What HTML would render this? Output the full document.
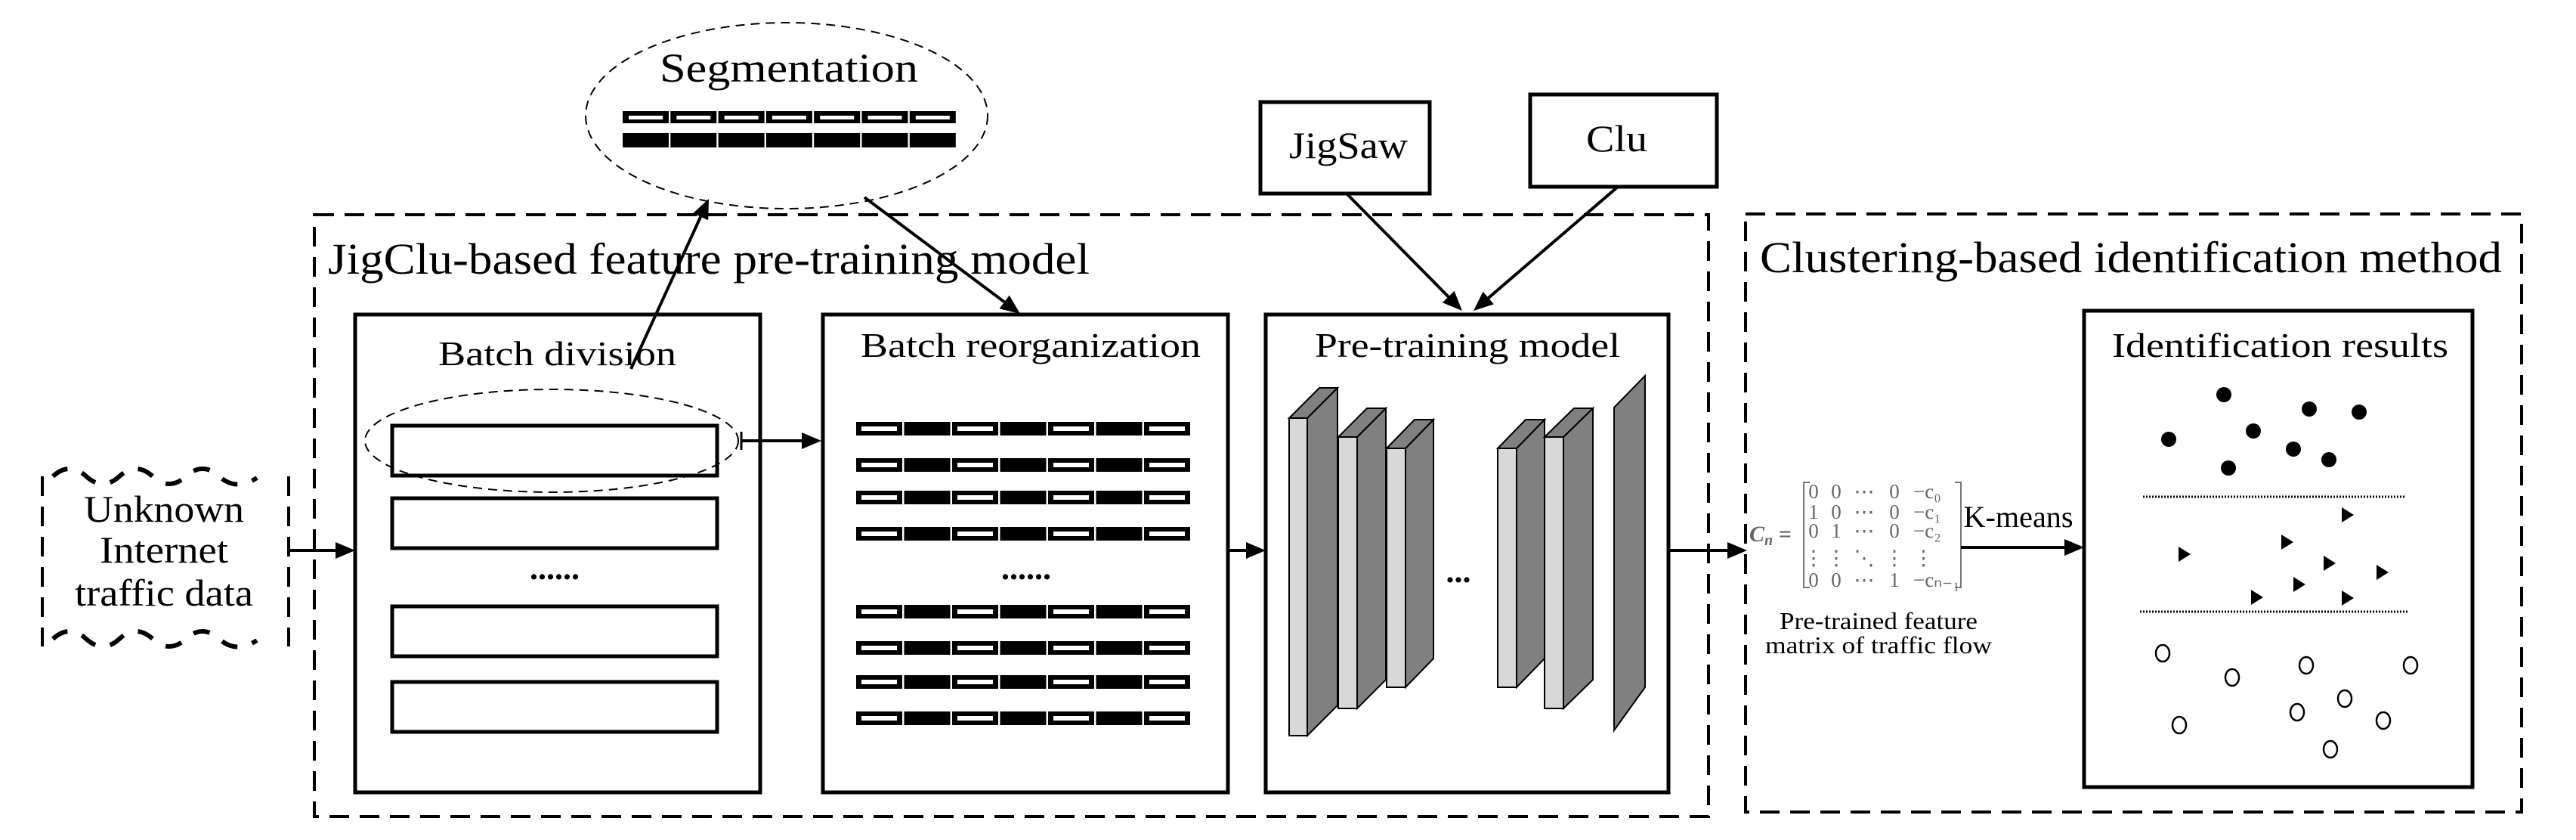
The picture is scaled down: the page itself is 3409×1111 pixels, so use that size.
<!DOCTYPE html>
<html><head><meta charset="utf-8"><style>
html,body{margin:0;padding:0;background:#fff;}
svg{display:block;}
svg text{font-family:"Liberation Serif","Times New Roman",Times,serif;fill:#000;}
</style></head><body>
<svg id="s" width="3409" height="1111" viewBox="0 0 3409 1111" xmlns="http://www.w3.org/2000/svg" font-family="Liberation Serif, Times New Roman, serif">
<!-- dashed group boxes -->
<rect x="416" y="284" width="1845" height="796" fill="none" stroke="#000" stroke-width="4" stroke-dasharray="26,14"/>
<rect x="2310" y="283" width="1027" height="791" fill="none" stroke="#000" stroke-width="4" stroke-dasharray="26,14"/>
<text x="434" y="362" font-size="58" textLength="1008" lengthAdjust="spacingAndGlyphs">JigClu-based feature pre-training model</text>
<text x="2329" y="360" font-size="58" textLength="982" lengthAdjust="spacingAndGlyphs">Clustering-based identification method</text>

<!-- segmentation -->
<ellipse cx="1041" cy="153" rx="266" ry="123" fill="none" stroke="#000" stroke-width="2" stroke-dasharray="12,8"/>
<text x="873" y="108" font-size="54" textLength="342" lengthAdjust="spacingAndGlyphs">Segmentation</text>
<g id="seg"></g>

<!-- boxes -->
<rect x="470" y="416" width="536" height="632" fill="none" stroke="#000" stroke-width="5"/>
<rect x="1089" y="416" width="536" height="632" fill="none" stroke="#000" stroke-width="5"/>
<rect x="1675" y="416" width="533" height="632" fill="none" stroke="#000" stroke-width="5"/>
<rect x="2758" y="411" width="514" height="630" fill="none" stroke="#000" stroke-width="5"/>
<rect x="1668" y="135" width="224" height="121" fill="none" stroke="#000" stroke-width="5"/>
<rect x="2025" y="125" width="247" height="122" fill="none" stroke="#000" stroke-width="5"/>
<text x="1706" y="209" font-size="50" textLength="157" lengthAdjust="spacingAndGlyphs">JigSaw</text>
<text x="2099" y="200" font-size="50" textLength="81" lengthAdjust="spacingAndGlyphs">Clu</text>
<text x="580" y="483" font-size="46" textLength="315" lengthAdjust="spacingAndGlyphs">Batch division</text>
<text x="1139" y="472" font-size="46" textLength="450" lengthAdjust="spacingAndGlyphs">Batch reorganization</text>
<text x="1740" y="472" font-size="46" textLength="404" lengthAdjust="spacingAndGlyphs">Pre-training model</text>
<text x="2795" y="472" font-size="46" textLength="445" lengthAdjust="spacingAndGlyphs">Identification results</text>

<!-- batch division rects -->
<rect x="519" y="563" width="430" height="66" fill="none" stroke="#000" stroke-width="5"/>
<rect x="519" y="659" width="430" height="66" fill="none" stroke="#000" stroke-width="5"/>
<rect x="519" y="802" width="430" height="66" fill="none" stroke="#000" stroke-width="5"/>
<rect x="519" y="902" width="430" height="66" fill="none" stroke="#000" stroke-width="5"/>
<text x="734" y="766" font-size="44" text-anchor="middle" font-weight="bold">......</text>
<ellipse cx="730" cy="583" rx="247" ry="68" fill="none" stroke="#000" stroke-width="2" stroke-dasharray="12,8"/>
<g id="reorg"></g>
<text x="1358" y="766" font-size="44" text-anchor="middle" font-weight="bold">......</text>

<!-- unknown wavy box -->
<g fill="none" stroke="#000" stroke-width="4">
<path d="M56 630 V855" stroke-dasharray="26,14"/>
<path d="M382 630 V855" stroke-dasharray="26,14"/>
<path d="M70 630 Q 92 610 114 630 Q 136 650 158 630 Q 180 610 202 630 Q 224 650 246 630 Q 268 610 290 630 Q 312 650 340 632" stroke-dasharray="22,20" stroke-width="6"/>
<path d="M70 845 Q 92 825 114 845 Q 136 865 158 845 Q 180 825 202 845 Q 224 865 246 845 Q 268 825 290 845 Q 312 865 340 847" stroke-dasharray="22,20" stroke-width="6"/>
</g>
<text x="217" y="690" font-size="50" text-anchor="middle" textLength="212" lengthAdjust="spacingAndGlyphs">Unknown</text>
<text x="217" y="744" font-size="50" text-anchor="middle" textLength="170" lengthAdjust="spacingAndGlyphs">Internet</text>
<text x="217" y="801" font-size="50" text-anchor="middle" textLength="236" lengthAdjust="spacingAndGlyphs">traffic data</text>

<!-- layers -->
<g id="layers" stroke="#000" stroke-width="2"></g>
<text x="1930" y="770" font-size="44" text-anchor="middle" font-weight="bold">...</text>

<!-- matrix -->
<text x="2315" y="716" font-size="30" font-style="italic" font-weight="bold" style="fill:#666">C<tspan font-size="20" dy="5">n</tspan><tspan dy="-5"> =</tspan></text>
<path d="M2395 638 H2387 V777 H2395 M2587 638 H2595 V777 H2587" fill="none" stroke="#777" stroke-width="2"/>
<g id="mat"></g>
<text x="2486" y="832" font-size="32" text-anchor="middle" textLength="262" lengthAdjust="spacingAndGlyphs">Pre-trained feature</text>
<text x="2486" y="864" font-size="32" text-anchor="middle" textLength="300" lengthAdjust="spacingAndGlyphs">matrix of traffic flow</text>
<text x="2671" y="697" font-size="40" text-anchor="middle" textLength="145" lengthAdjust="spacingAndGlyphs">K-means</text>

<!-- results -->
<line x1="2836" y1="657" x2="3184" y2="657" stroke="#000" stroke-width="3" stroke-dasharray="2,2"/>
<line x1="2832" y1="809" x2="3186" y2="809" stroke="#000" stroke-width="3" stroke-dasharray="2,2"/>
<g id="pts"></g>

<!-- connectors -->
<g id="arrows" stroke="#000" stroke-width="4" fill="#000"></g>
</svg>
<script>
const NS="http://www.w3.org/2000/svg";
function el(p,t,a){const e=document.createElementNS(NS,t);for(const k in a)e.setAttribute(k,a[k]);p.appendChild(e);return e;}
const g=id=>document.getElementById(id);
for(let i=0;i<7;i++){const x=824+i*63.3;
 el(g('seg'),'rect',{x:x,y:147,width:61,height:16,fill:'#000'});
 el(g('seg'),'rect',{x:x+8,y:153,width:45,height:5,fill:'#fff'});
 el(g('seg'),'rect',{x:x,y:176,width:61,height:19,fill:'#000'});}
[558,606,649,697,800,848,893,941].forEach(y=>{for(let i=0;i<7;i++){const x=1133+i*63.5;
 el(g('reorg'),'rect',{x:x,y:y,width:61,height:18,fill:'#000'});
 if(i%2==0)el(g('reorg'),'rect',{x:x+7,y:y+6,width:47,height:6,fill:'#fff'});}});
function slab(lx,w,ty,by,dx,dy,light){const L=g('layers');
 el(L,'polygon',{points:`${lx+w},${ty} ${lx+w+dx},${ty-dy} ${lx+w+dx},${by-dy} ${lx+w},${by}`,fill:'#808080'});
 el(L,'polygon',{points:`${lx},${ty} ${lx+dx},${ty-dy} ${lx+w+dx},${ty-dy} ${lx+w},${ty}`,fill:'#808080'});
 if(light)el(L,'rect',{x:lx,y:ty,width:w,height:by-ty,fill:'#d8d8d8'});}
slab(1706,24,553,973,40,40,1);
slab(1771,25,578,937,38,38,1);
slab(1835,25,593,909,37,38,1);
slab(1982,25,593,909,37,38,1);
slab(2044,25,578,937,39,38,1);
el(g('layers'),'polygon',{points:'2136,539 2177,497 2177,909 2136,966',fill:'#808080'});
const rows=[["0","0","⋯","0","−c₀"],["1","0","⋯","0","−c₁"],["0","1","⋯","0","−c₂"],["⋮","⋮","⋱","⋮","⋮"],["0","0","⋯","1","−cₙ₋₁"]];
const ys=[659,686,711,747,776],xs=[2400,2430,2467,2507,2532];
rows.forEach((r,i)=>r.forEach((c,j)=>{const t=el(g('mat'),'text',{x:xs[j],y:ys[i],'font-size':27,'text-anchor':j==4?'start':'middle',style:'fill:#666'});t.textContent=c;}));
[[2943,522],[3056,541],[3122,545],[2870,581],[2982,570],[3035,594],[3082,608],[2949,619]].forEach(p=>el(g('pts'),'circle',{cx:p[0],cy:p[1],r:10,fill:'#000'}));
[[3106,681],[3026,717],[2890,733],[3082,745],[3152,757],[3042,773],[2986,790],[3106,791]].forEach(p=>el(g('pts'),'polygon',{points:`${p[0]-7},${p[1]-10} ${p[0]+9},${p[1]} ${p[0]-7},${p[1]+10}`,fill:'#000'}));
[[2862,864],[2954,896],[3052,880],[3190,880],[3103,924],[3040,942],[3154,953],[2884,959],[3084,991]].forEach(p=>el(g('pts'),'ellipse',{cx:p[0],cy:p[1],rx:9,ry:11,fill:'none',stroke:'#000','stroke-width':2.5}));
function arrow(x1,y1,x2,y2){const A=g('arrows');const a=Math.atan2(y2-y1,x2-x1),L=26,W=11;
 const bx=x2-L*Math.cos(a),by=y2-L*Math.sin(a);
 el(A,'line',{x1:x1,y1:y1,x2:bx,y2:by});
 el(A,'polygon',{points:`${x2},${y2} ${bx+W*Math.sin(a)},${by-W*Math.cos(a)} ${bx-W*Math.sin(a)},${by+W*Math.cos(a)}`,stroke:'none'});}
arrow(382,728,470,728);
arrow(981,583,1087,583);
el(g('arrows'),'line',{x1:981,y1:571,x2:981,y2:595,'stroke-width':3});
arrow(1625,728,1675,728);
arrow(2208,728,2312,728);
arrow(2595,724,2758,724);
arrow(835,488,938,263);
arrow(1144,261,1350,415);
arrow(1783,257,1935,411);
arrow(2141,247,1950,411);
</script>
</body></html>
